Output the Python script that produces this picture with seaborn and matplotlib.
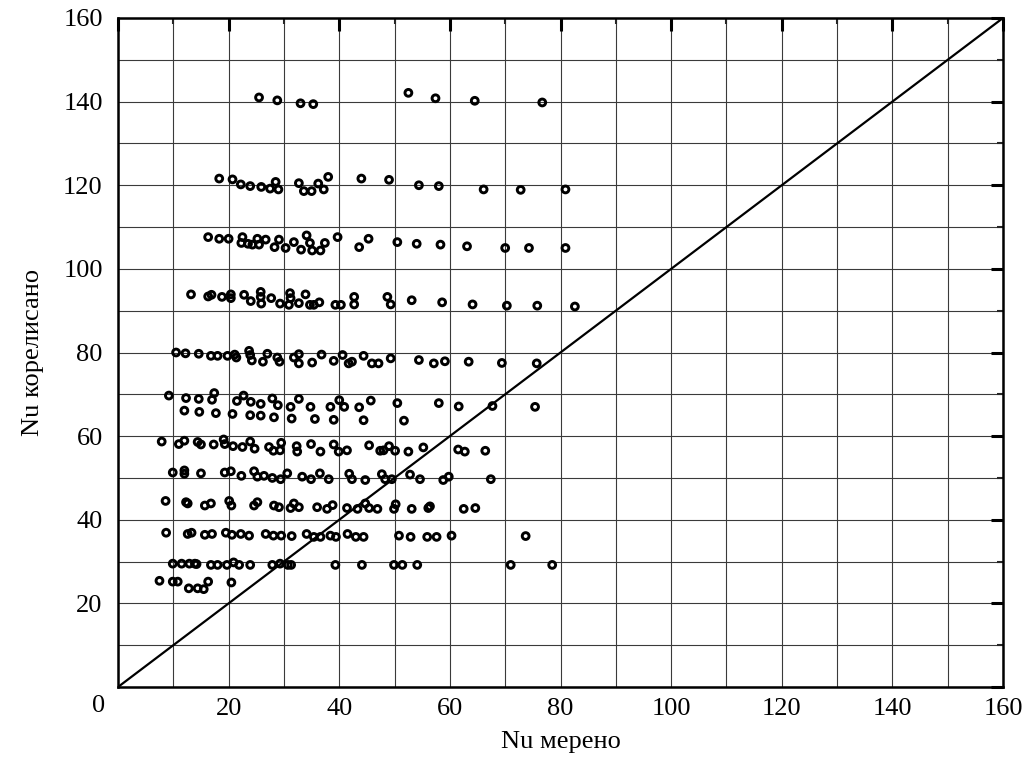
import numpy as np
import pandas as pd
import matplotlib
matplotlib.use("Agg")
import matplotlib.pyplot as plt
import seaborn as sns
from matplotlib.ticker import MultipleLocator

# ---- data: (Nu measured, Nu correlated), grouped by band ----
row140_x = [25.5, 28.8, 33.0, 35.3, 52.5, 57.4, 64.5, 76.7]
row140_y = [141.0, 140.3, 139.6, 139.4, 142.1, 140.8, 140.2, 139.8]

row120_x = [18.3, 20.7, 22.2, 23.9, 25.9, 27.5, 28.5, 29.0, 32.7, 33.6, 35.0, 36.2,
            37.2, 38.0, 44.0, 49.0, 54.4, 58.0, 66.1, 72.8, 80.9]
row120_y = [121.6, 121.4, 120.2, 119.8, 119.6, 119.2, 120.8, 119.0, 120.5, 118.6, 118.6,
            120.4, 119.0, 122.0, 121.6, 121.3, 120.0, 119.8, 119.0, 118.9, 119.0]

row107_x = [16.3, 18.3, 20.0, 22.5, 22.3, 23.5, 24.3, 25.2, 25.5, 26.7, 29.1, 28.3,
            30.3, 31.8, 33.1, 34.1, 34.7, 35.1, 36.6, 37.4, 39.7, 43.6, 45.3, 50.5,
            54.0, 58.3, 63.1, 70.0, 74.3, 80.9]
row107_y = [107.6, 107.2, 107.2, 107.6, 106.2, 106.0, 105.8, 107.2, 105.8, 107.0, 107.0,
            105.2, 105.0, 106.4, 104.6, 108.0, 106.2, 104.4, 104.4, 106.2, 107.6, 105.2,
            107.2, 106.4, 106.0, 105.8, 105.4, 105.0, 105.0, 105.0]

row93_x = [13.2, 16.3, 16.9, 18.8, 20.4, 20.4, 22.8, 24.0, 25.8, 25.9, 25.8, 27.7, 29.3,
           31.1, 30.9, 31.2, 32.7, 33.9, 34.7, 35.4, 36.4, 39.3, 40.3, 42.7, 42.7, 48.7,
           49.3, 53.1, 58.6, 64.1, 70.3, 75.8, 82.6]
row93_y = [93.9, 93.4, 93.8, 93.3, 93.9, 93.0, 93.8, 92.3, 94.5, 91.7, 93.3, 93.0, 91.7,
           94.2, 91.4, 93.0, 91.8, 93.9, 91.4, 91.4, 92.0, 91.4, 91.4, 93.3, 91.5, 93.3,
           91.5, 92.5, 92.0, 91.5, 91.2, 91.2, 91.0]

row80_x = [10.5, 12.2, 14.6, 16.8, 18.0, 19.8, 21.1, 21.4, 23.7, 23.9, 24.2, 26.2, 27.0,
           28.8, 29.2, 31.8, 32.7, 32.7, 35.1, 36.8, 39.0, 40.6, 41.7, 42.3, 44.4, 45.9,
           47.1, 49.3, 54.4, 57.1, 59.1, 63.4, 69.4, 75.7]
row80_y = [80.0, 79.8, 79.7, 79.2, 79.2, 79.2, 79.5, 78.8, 80.4, 79.4, 78.1, 77.8, 79.7,
           78.8, 77.8, 78.8, 79.6, 77.4, 77.6, 79.5, 78.0, 79.4, 77.4, 77.8, 79.2, 77.4,
           77.4, 78.6, 78.2, 77.4, 77.9, 77.8, 77.5, 77.4]

row68_x = [9.2, 12.3, 14.6, 17.0, 17.4, 21.5, 22.7, 24.0, 25.8, 27.9, 28.9, 31.2, 32.7,
           34.8, 38.4, 40.0, 40.9, 43.6, 45.7, 50.5, 58.0, 61.6, 67.7, 75.4]
row68_y = [69.7, 69.1, 68.9, 68.7, 70.3, 68.4, 69.7, 68.2, 67.7, 69.0, 67.4, 67.0, 68.9,
           67.0, 67.0, 68.6, 67.0, 66.9, 68.5, 67.9, 67.9, 67.1, 67.2, 67.0]

row65_x = [12.0, 14.7, 17.7, 20.7, 23.9, 25.8, 28.2, 31.4, 35.6, 39.0, 44.4, 51.7]
row65_y = [66.1, 65.8, 65.5, 65.3, 65.0, 64.9, 64.5, 64.2, 64.1, 63.9, 63.8, 63.7]

row58_x = [7.9, 11.0, 12.0, 14.4, 15.0, 17.3, 19.1, 19.3, 20.8, 22.5, 23.9, 24.7, 27.3,
           28.1, 29.3, 29.5, 32.3, 32.4, 34.9, 36.6, 39.0, 39.9, 41.4, 45.4, 47.4, 48.0,
           49.0, 50.1, 52.5, 55.2, 61.5, 62.7, 66.4]
row58_y = [58.7, 58.1, 58.9, 58.6, 58.0, 58.0, 59.2, 58.1, 57.6, 57.4, 58.7, 57.0, 57.4,
           56.5, 56.6, 58.4, 57.6, 56.3, 58.1, 56.3, 58.0, 56.3, 56.6, 57.8, 56.5, 56.6,
           57.6, 56.5, 56.3, 57.3, 56.8, 56.3, 56.5]

row51_x = [9.9, 12.0, 12.0, 15.0, 19.3, 20.4, 22.3, 24.6, 25.2, 26.4, 27.9, 29.4, 30.6,
           33.3, 34.9, 36.5, 38.1, 41.8, 42.3, 44.7, 47.7, 48.3, 49.5, 52.8, 54.6, 58.8,
           59.8, 67.4]
row51_y = [51.3, 51.8, 51.0, 51.1, 51.3, 51.6, 50.5, 51.6, 50.3, 50.5, 50.0, 49.7, 51.1,
           50.3, 49.7, 51.1, 49.7, 51.0, 49.7, 49.5, 50.9, 49.7, 49.7, 50.8, 49.7, 49.5,
           50.3, 49.7]

row44_x = [8.6, 12.3, 12.6, 15.7, 16.8, 20.1, 20.5, 24.6, 25.2, 28.2, 29.1, 31.2, 31.8,
           32.7, 36.0, 37.8, 38.8, 41.4, 43.3, 44.7, 45.4, 46.9, 49.9, 50.2, 53.1, 56.1,
           56.4, 62.5, 64.6]
row44_y = [44.5, 44.2, 43.9, 43.4, 43.9, 44.5, 43.4, 43.4, 44.2, 43.4, 43.0, 42.8, 43.9,
           43.0, 43.0, 42.6, 43.5, 42.8, 42.6, 43.9, 42.8, 42.6, 42.6, 43.7, 42.6, 42.8,
           43.2, 42.6, 42.8]

row37_x = [8.7, 12.6, 13.3, 15.7, 17.0, 19.5, 20.6, 22.2, 23.7, 26.7, 28.1, 29.5, 31.4,
           34.1, 35.4, 36.6, 38.4, 39.4, 41.5, 43.0, 44.4, 50.8, 52.9, 55.9, 57.6, 60.3,
           73.7]
row37_y = [36.9, 36.6, 36.9, 36.4, 36.6, 36.9, 36.4, 36.6, 36.2, 36.6, 36.2, 36.2, 36.1,
           36.6, 35.9, 35.9, 36.2, 35.9, 36.6, 35.9, 35.9, 36.2, 35.9, 35.9, 35.9, 36.2,
           36.1]

row29_x = [9.9, 11.5, 12.9, 13.9, 14.2, 16.8, 18.0, 19.7, 20.9, 21.9, 23.9, 27.9, 29.3,
           30.7, 31.3, 39.3, 44.1, 49.9, 51.4, 54.1, 71.0, 78.5]
row29_y = [29.5, 29.5, 29.5, 29.5, 29.4, 29.2, 29.2, 29.2, 29.8, 29.2, 29.2, 29.2, 29.5,
           29.2, 29.2, 29.2, 29.2, 29.2, 29.2, 29.2, 29.2, 29.2]

row25_x = [7.5, 9.9, 10.8, 12.8, 14.4, 15.5, 16.3, 20.5]
row25_y = [25.4, 25.2, 25.2, 23.6, 23.6, 23.4, 25.2, 25.0]

diag_x = [0, 160]
diag_y = [0, 160]

x_ticks = [0, 20, 40, 60, 80, 100, 120, 140, 160]
x_label = "Nu мерено"
y_label = "Nu корелисано"

# ---- assemble ----
xs = (row140_x + row120_x + row107_x + row93_x + row80_x + row68_x + row65_x +
      row58_x + row51_x + row44_x + row37_x + row29_x + row25_x)
ys = (row140_y + row120_y + row107_y + row93_y + row80_y + row68_y + row65_y +
      row58_y + row51_y + row44_y + row37_y + row29_y + row25_y)
df = pd.DataFrame({"measured": xs, "correlated": ys})

sns.set_theme(style="white")
plt.rcParams["font.family"] = ["Liberation Serif", "DejaVu Serif"]

fig = plt.figure(figsize=(10.27, 7.6), dpi=100)
ax = fig.add_axes([118 / 1027, 1 - 687 / 760, 885 / 1027, 669 / 760])

ax.set_xlim(0, 160)
ax.set_ylim(0, 160)
ax.xaxis.set_major_locator(MultipleLocator(20))
ax.yaxis.set_major_locator(MultipleLocator(20))
ax.xaxis.set_minor_locator(MultipleLocator(10))
ax.yaxis.set_minor_locator(MultipleLocator(10))
ax.grid(True, which="both", color="#3a3a3a", linewidth=0.8)
ax.set_axisbelow(True)

sns.lineplot(x=diag_x, y=diag_y, ax=ax, color="black", linewidth=1.6, zorder=3)
sns.scatterplot(data=df, x="measured", y="correlated", ax=ax, marker="o", s=24,
                facecolor="none", edgecolor="black", linewidth=2.1, zorder=4)
pts = ax.collections[-1]
pts.set_facecolor("none")
pts.set_edgecolor("black")
pts.set_linewidth(2.1)

for sp in ax.spines.values():
    sp.set_color("black")
    sp.set_linewidth(1.8)
    sp.set_visible(True)

ax.tick_params(which="major", direction="in", length=9, width=2.2, top=True, right=True,
               labelsize=19, colors="black")
ax.tick_params(which="minor", direction="in", length=4, width=1.5, top=True, right=True)
ax.tick_params(axis="x", which="major", pad=8)
ax.tick_params(axis="y", which="major", pad=11)

ax.set_xticks(x_ticks)
ax.set_xticklabels(["" if t == 0 else str(t) for t in x_ticks])
ax.set_yticks(x_ticks)
ax.set_yticklabels(["" if t == 0 else str(t) for t in x_ticks])
ax.text(-0.022, -0.012, "0", transform=ax.transAxes, fontsize=19,
        ha="center", va="top", color="black")

ax.set_xlabel(x_label, fontsize=19, labelpad=8, color="black")
ax.set_ylabel(y_label, fontsize=19, labelpad=14, color="black")

fig.savefig("out.png", dpi=100)
